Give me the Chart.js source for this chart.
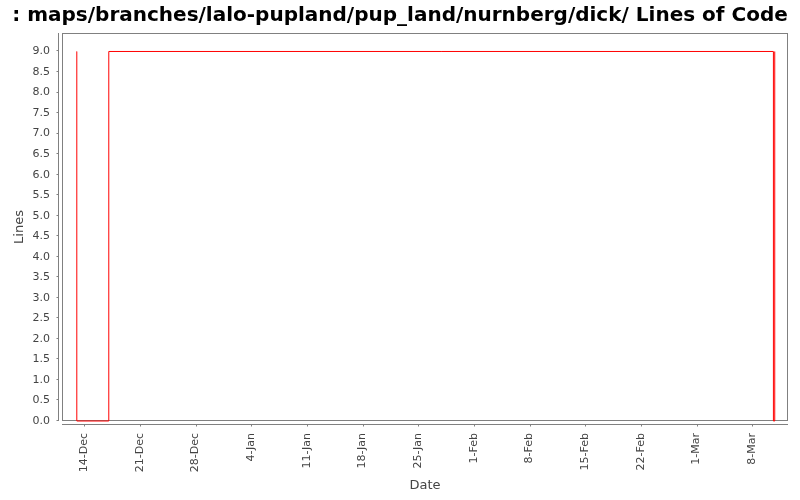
<!DOCTYPE html>
<html>
<head>
<meta charset="utf-8">
<script src="https://cdn.jsdelivr.net/npm/chart.js@4/dist/chart.umd.min.js"></script>
<style>
  html, body { margin: 0; padding: 0; background: #ffffff; }
  #wrap { width: 800px; height: 500px; }
</style>
</head>
<body>
<div id="wrap"><canvas id="c" width="800" height="500"></canvas></div>
<script>
// ---- data ----
const pointDates = ['2008-12-13T01:00Z', '2008-12-13T01:30Z', '2008-12-17T02:00Z', '2009-03-10T16:00Z', '2009-03-10T20:00Z'];
const lineValues = [9, 0, 9, 0, 9];
const tickDates = ['2008-12-14', '2008-12-21', '2008-12-28', '2009-01-04', '2009-01-11', '2009-01-18', '2009-01-25',
                   '2009-02-01', '2009-02-08', '2009-02-15', '2009-02-22', '2009-03-01', '2009-03-08'];
const tickLabels = ['14-Dec', '21-Dec', '28-Dec', '4-Jan', '11-Jan', '18-Jan', '25-Jan',
                    '1-Feb', '8-Feb', '15-Feb', '22-Feb', '1-Mar', '8-Mar'];
const yTickValues = [0, 0.5, 1, 1.5, 2, 2.5, 3, 3.5, 4, 4.5, 5, 5.5, 6, 6.5, 7, 7.5, 8, 8.5, 9];
const xRangeDates = ['2008-12-11T04:48Z', '2009-03-12T12:00Z'];
const yMax = 9.45;
const titleText = ': maps/branches/lalo-pupland/pup_land/nurnberg/dick/ Lines of Code';

// ---- helpers ----
const ORIGIN = Date.parse('2008-12-14T00:00Z');
function toDays(s) {
  const str = s.length === 10 ? s + 'T00:00Z' : s;
  return (Date.parse(str) - ORIGIN) / 86400000;
}
const points = pointDates.map((d, i) => ({ x: toDays(d), y: lineValues[i] }));

const AXIS_GRAY = '#808080';
const TEXT_GRAY = '#444444';

const framePlugin = {
  id: 'frame',
  beforeDatasetsDraw(chart) {
    const { ctx, chartArea: a, scales } = chart;
    ctx.save();
    ctx.strokeStyle = AXIS_GRAY;
    ctx.lineWidth = 1;
    // plot border
    ctx.strokeRect(Math.round(a.left) + 0.5, Math.round(a.top) + 0.5,
                   Math.round(a.right - a.left) - 1, Math.round(a.bottom - a.top) - 1);
    // y axis line (offset)
    const yx = Math.round(a.left) - 3.5;
    ctx.beginPath();
    ctx.moveTo(yx, a.top);
    ctx.lineTo(yx, a.bottom);
    // y tick marks
    scales.y.ticks.forEach(t => {
      const py = Math.round(scales.y.getPixelForValue(t.value)) - 0.5;
      ctx.moveTo(yx, py);
      ctx.lineTo(yx - 2, py);
    });
    // x axis line (offset)
    const xy = Math.round(a.bottom) + 3.5;
    ctx.moveTo(a.left, xy);
    ctx.lineTo(a.right, xy);
    scales.x.ticks.forEach(t => {
      const px = Math.round(scales.x.getPixelForValue(t.value)) + 0.5;
      ctx.moveTo(px, xy);
      ctx.lineTo(px, xy + 2);
    });
    ctx.stroke();
    ctx.restore();
  }
};

new Chart(document.getElementById('c'), {
  type: 'line',
  data: {
    datasets: [{
      data: points,
      borderColor: '#ff0000',
      borderWidth: 1,
      pointRadius: 0,
      stepped: true,
      fill: false,
      clip: 3
    }]
  },
  options: {
    responsive: false,
    animation: false,
    layout: { padding: { left: 12, right: 12, top: 0, bottom: 0 } },
    plugins: {
      legend: { display: false },
      tooltip: { enabled: false },
      title: {
        display: true,
        text: titleText,
        color: '#000000',
        font: { family: 'DejaVu Sans', size: 20, weight: 'bold', lineHeight: 1.2 },
        padding: { top: 4, bottom: 5 }
      }
    },
    scales: {
      x: {
        type: 'linear',
        min: toDays(xRangeDates[0]),
        max: toDays(xRangeDates[1]),
        afterBuildTicks(scale) {
          scale.ticks = tickDates.map(d => ({ value: toDays(d) }));
        },
        afterFit(scale) { scale.height = 79; },
        grid: { display: false, drawTicks: false },
        border: { display: false },
        ticks: {
          autoSkip: false,
          maxRotation: 90,
          minRotation: 90,
          padding: 12,
          color: TEXT_GRAY,
          font: { family: 'DejaVu Sans', size: 11 },
          callback: (v, i) => tickLabels[i]
        },
        title: {
          display: true,
          text: 'Date',
          color: TEXT_GRAY,
          font: { family: 'DejaVu Sans', size: 13 },
          padding: { top: 0, bottom: 7 }
        }
      },
      y: {
        type: 'linear',
        min: 0,
        max: yMax,
        afterBuildTicks(scale) {
          scale.ticks = yTickValues.map(v => ({ value: v }));
        },
        afterFit(scale) { scale.width = 50; },
        grid: { display: false, drawTicks: false },
        border: { display: false },
        ticks: {
          padding: 12,
          color: TEXT_GRAY,
          font: { family: 'DejaVu Sans', size: 11 },
          callback: v => Number(v).toFixed(1)
        },
        title: {
          display: true,
          text: 'Lines',
          color: TEXT_GRAY,
          font: { family: 'DejaVu Sans', size: 13 },
          padding: { top: 0, bottom: 0 }
        }
      }
    }
  },
  plugins: [framePlugin]
});
</script>
</body>
</html>
